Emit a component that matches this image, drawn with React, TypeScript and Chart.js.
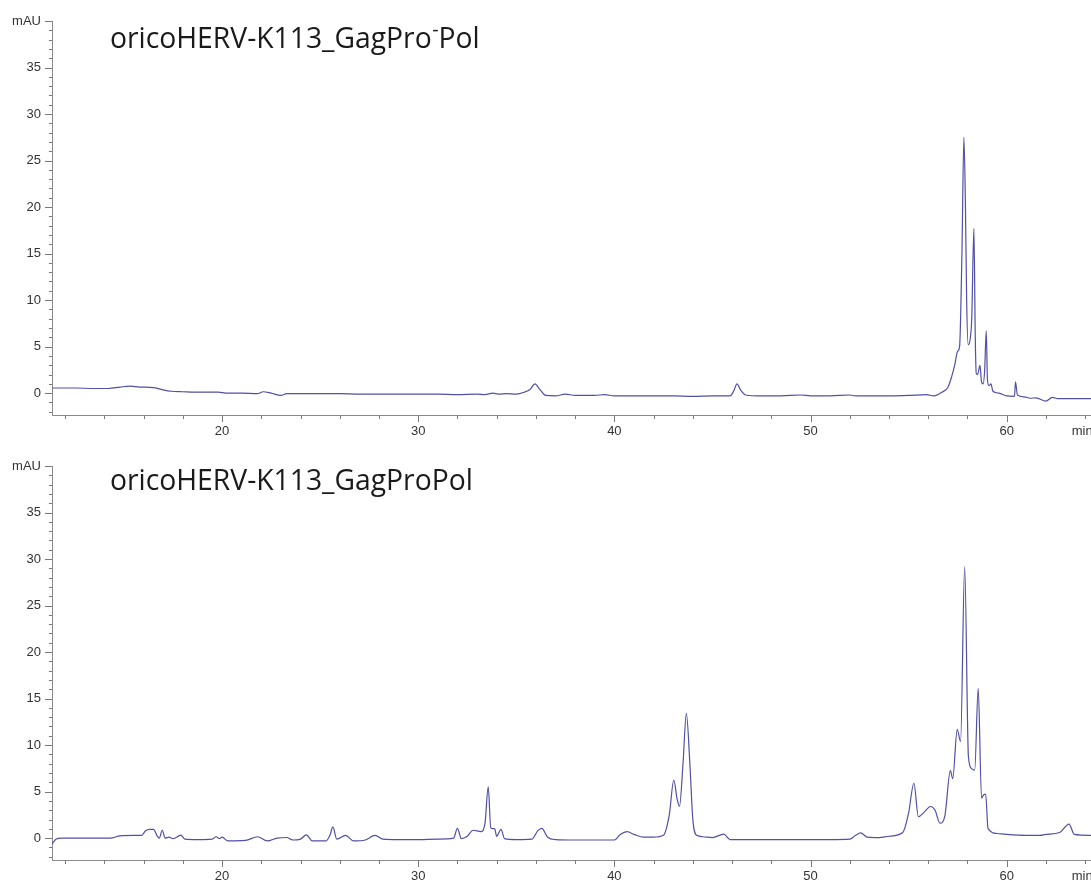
import React, { useEffect, useRef } from 'react';
import { Chart, registerables } from 'chart.js';
Chart.register(...registerables);

// Chromatogram 1: oricoHERV-K113_GagPro-Pol (retention time in min, absorbance in mAU)
const topTimes = [
  11.33, 12.5, 13.5, 14.2, 14.8, 15.3, 15.8, 16.5, 16.9, 17.4, 18.0, 19.0, 19.8, 20.2, 21.0, 21.8, 22.1, 22.5, 23.0, 23.3,
  24.5, 26.0, 27.0, 28.0, 29.0, 30.0, 31.0, 32.0, 33.0, 33.4, 33.8, 34.1, 34.5, 35.0, 35.4, 35.7, 35.95, 36.2, 36.5, 37.0,
  37.5, 38.0, 39.0, 39.5, 40.0, 41.0, 42.0, 43.0, 44.0, 45.0, 45.9, 46.1, 46.25, 46.45, 46.7, 47.5, 48.5, 49.5, 50.0, 51.0,
  52.0, 52.3, 53.0, 54.0, 55.0, 55.9, 56.3, 56.7, 57.0, 57.2, 57.35, 57.5, 57.6, 57.72, 57.82, 57.9, 57.96, 58.04, 58.15, 58.22,
  58.33, 58.4, 58.45, 58.52, 58.64, 58.72, 58.8, 58.88, 58.96, 59.02, 59.1, 59.2, 59.3, 59.6, 60.0, 60.4, 60.45, 60.55, 60.9, 61.2,
  61.5, 62.0, 62.33, 62.6, 63.3, 64.3,
];
const topValues = [
  0.55, 0.55, 0.5, 0.5, 0.65, 0.75, 0.65, 0.6, 0.4, 0.2, 0.15, 0.1, 0.1, 0.0, 0.0, -0.05, 0.15, 0.0, -0.25, -0.05,
  -0.05, -0.05, -0.1, -0.1, -0.1, -0.1, -0.1, -0.15, -0.1, -0.15, 0.0, -0.1, -0.05, -0.1, 0.1, 0.4, 1.0, 0.4, -0.25, -0.3,
  -0.1, -0.25, -0.25, -0.15, -0.3, -0.3, -0.3, -0.3, -0.35, -0.3, -0.3, 0.3, 1.0, 0.3, -0.2, -0.3, -0.3, -0.2, -0.3, -0.3,
  -0.2, -0.3, -0.3, -0.3, -0.25, -0.15, -0.3, 0.1, 0.6, 1.8, 3.0, 4.5, 5.0, 15, 27.5, 20, 10, 5.2, 6.0, 8,
  17.7, 6, 2.1, 2.0, 3.0, 1.2, 1.0, 2.5, 6.7, 1.5, 0.8, 1.0, 0.2, 0.0, -0.3, -0.35, 1.2, -0.2, -0.4, -0.55,
  -0.5, -0.85, -0.45, -0.6, -0.6, -0.6,
];

// Chromatogram 2: oricoHERV-K113_GagProPol
const bottomTimes = [
  11.33, 11.55, 11.8, 13.0, 14.3, 14.8, 15.5, 15.9, 16.1, 16.3, 16.5, 16.7, 16.8, 16.95, 17.1, 17.3, 17.5, 17.9, 18.1, 18.8,
  19.5, 19.7, 19.85, 20.0, 20.3, 21.2, 21.8, 22.3, 22.8, 23.3, 23.6, 24.0, 24.3, 24.6, 25.3, 25.5, 25.65, 25.85, 26.3, 26.7,
  27.3, 27.8, 28.2, 29.0, 30.0, 31.0, 31.8, 32.0, 32.2, 32.5, 32.8, 33.2, 33.4, 33.57, 33.7, 33.9, 34.0, 34.22, 34.4, 35.0,
  35.8, 36.1, 36.3, 36.6, 37.0, 38.0, 39.0, 40.0, 40.3, 40.65, 41.0, 41.5, 42.0, 42.5, 42.8, 43.03, 43.2, 43.32, 43.5, 43.67,
  43.85, 44.0, 44.2, 44.5, 45.0, 45.58, 45.9, 47.0, 48.0, 49.0, 50.0, 51.0, 52.0, 52.3, 52.55, 52.9, 53.5, 54.0, 54.7, 55.0,
  55.27, 55.5, 55.8, 56.12, 56.35, 56.6, 56.85, 57.13, 57.25, 57.48, 57.65, 57.86, 58.05, 58.2, 58.37, 58.55, 58.72, 58.85, 58.93, 59.05,
  59.5, 60.0, 61.0, 61.7, 62.0, 62.7, 63.18, 63.45, 64.3,
];
const bottomValues = [
  -0.6, -0.1, 0.0, 0.0, 0.0, 0.25, 0.3, 0.3, 0.8, 0.95, 0.95, 0.2, 0.0, 0.85, 0.0, 0.1, -0.05, 0.32, -0.1, -0.15,
  -0.1, 0.15, -0.05, 0.1, -0.3, -0.25, 0.15, -0.3, 0.0, 0.07, -0.2, -0.1, 0.35, -0.3, -0.3, 0.3, 1.2, -0.1, 0.3, -0.3,
  -0.2, 0.3, -0.1, -0.15, -0.15, -0.1, 0.0, 1.05, -0.05, 0.2, 0.85, 0.7, 1.5, 5.5, 1.1, 1.0, 0.2, 0.95, -0.05, -0.15,
  -0.1, 0.8, 1.05, 0.1, -0.15, -0.2, -0.2, -0.2, 0.4, 0.7, 0.4, 0.1, 0.1, 0.3, 2.5, 6.25, 4.2, 3.4, 8, 13.4,
  8, 2.0, 0.3, 0.15, 0.05, 0.43, -0.15, -0.15, -0.15, -0.15, -0.15, -0.15, -0.1, 0.3, 0.57, 0.1, 0.05, 0.2, 0.6, 2.7,
  5.9, 2.3, 2.8, 3.4, 3.0, 1.6, 2.4, 7.25, 6.4, 11.7, 10.4, 29.2, 8.8, 7.5, 7.3, 16.1, 4.3, 4.7, 4.7, 1.05,
  0.5, 0.4, 0.3, 0.3, 0.4, 0.6, 1.5, 0.4, 0.3,
];

const xTickValues = [20, 30, 40, 50, 60];
const xUnitPosition = 63.85;
const yTickValues = [0, 5, 10, 15, 20, 25, 30, 35, 40];
const topTitle = [
  { text: 'oricoHERV-K113_GagPro', sup: false },
  { text: '-', sup: true },
  { text: 'Pol', sup: false },
];
const bottomTitle = [{ text: 'oricoHERV-K113_GagProPol', sup: false }];

const X_MIN = 11.33;
const X_MAX = 64.3;
const Y_MIN = -2.35;
const Y_MAX = 40;

const TITLE_FONT = '"Open Sans", Lato, sans-serif';
const TITLE_WIDTH = 363; // width of 'oricoHERV-K113_GagProPol' in the reference

const decorPlugin = {
  id: 'decor',
  afterDraw(chart: any) {
    const ctx = chart.ctx;
    const xs = chart.scales.x;
    const ys = chart.scales.y;
    const { left, bottom } = chart.chartArea;
    ctx.save();
    ctx.strokeStyle = '#7a7a7a';
    ctx.lineWidth = 1;
    ctx.beginPath();
    for (let t = 12; t <= 64; t += 2) {
      const px = Math.round(xs.getPixelForValue(t)) + 0.5;
      const len = t % 10 === 0 ? 7 : 4;
      ctx.moveTo(px, bottom);
      ctx.lineTo(px, bottom + len);
    }
    for (let v = -2; v <= 40; v += 1) {
      const py = Math.round(ys.getPixelForValue(v)) + 0.5;
      const len = v % 5 === 0 ? 7 : 3;
      ctx.moveTo(left - len, py);
      ctx.lineTo(left, py);
    }
    ctx.stroke();

    const parts = chart.options.plugins.decor.title as { text: string; sup: boolean }[];
    const baseline = chart.options.plugins.decor.baseline as number;
    ctx.font = `100px ${TITLE_FONT}`;
    const w100 = ctx.measureText('oricoHERV-K113_GagProPol').width;
    const size = (100 * TITLE_WIDTH) / w100;
    let cx = 110;
    ctx.fillStyle = '#1a1a1a';
    ctx.textBaseline = 'alphabetic';
    ctx.textAlign = 'left';
    for (const p of parts) {
      if (p.sup) {
        ctx.font = `${size * 0.7}px ${TITLE_FONT}`;
        ctx.fillText(p.text, cx + 0.5, baseline - size * 0.4);
        cx += ctx.measureText(p.text).width + 0.5;
      } else {
        ctx.font = `${size}px ${TITLE_FONT}`;
        ctx.fillText(p.text, cx, baseline);
        cx += ctx.measureText(p.text).width;
      }
    }
    ctx.restore();
  },
};

function Chromatogram(props: {
  times: number[];
  values: number[];
  title: { text: string; sup: boolean }[];
  padTop: number;
  xAxisH: number;
}) {
  const ref = useRef<HTMLCanvasElement | null>(null);
  useEffect(() => {
    if (!ref.current) return;
    const tickFont = { family: '"Liberation Sans", Arial, sans-serif', size: 13 };
    const chart = new Chart(ref.current, {
      type: 'line',
      data: {
        datasets: [
          {
            data: props.times.map((t, i) => ({ x: t, y: props.values[i] })),
            borderColor: '#5050a6',
            borderWidth: 1.2,
            pointRadius: 0,
            cubicInterpolationMode: 'monotone',
            fill: false,
          },
        ],
      },
      options: {
        animation: false,
        responsive: false,
        maintainAspectRatio: false,
        layout: { padding: { top: props.padTop, right: 0, left: 0, bottom: 0 } },
        plugins: {
          legend: { display: false },
          tooltip: { enabled: false },
          decor: { title: props.title, baseline: 47.5 },
        } as any,
        scales: {
          x: {
            type: 'linear',
            min: X_MIN,
            max: X_MAX,
            afterBuildTicks: (s: any) => {
              s.ticks = [...xTickValues, xUnitPosition].map((v) => ({ value: v }));
            },
            afterFit: (s: any) => {
              s.height = props.xAxisH;
              s.paddingLeft = 0;
              s.paddingRight = 0;
            },
            ticks: {
              autoSkip: false,
              maxRotation: 0,
              padding: 9,
              color: '#333',
              font: tickFont,
              callback: (v: any) => (v === xUnitPosition ? 'min' : String(v)),
            },
            grid: { display: false, drawTicks: false },
            border: { display: true, color: '#8a8a8a', width: 1 },
          },
          y: {
            type: 'linear',
            min: Y_MIN,
            max: Y_MAX,
            afterBuildTicks: (s: any) => {
              s.ticks = yTickValues.map((v) => ({ value: v }));
            },
            afterFit: (s: any) => {
              s.width = 52;
              s.paddingTop = 0;
              s.paddingBottom = 0;
            },
            ticks: {
              autoSkip: false,
              padding: 11,
              color: '#333',
              font: tickFont,
              callback: (v: any) => (v === 40 ? 'mAU' : String(v)),
            },
            grid: { display: false, drawTicks: false },
            border: { display: true, color: '#8a8a8a', width: 1 },
          },
        },
      } as any,
      plugins: [decorPlugin as any],
    });
    return () => chart.destroy();
  }, []);
  return <canvas ref={ref} width={1091} height={442} style={{ display: 'block', width: 1091, height: 442 }} />;
}

export default function App() {
  return (
    <div style={{ position: 'absolute', left: 0, top: 0, width: 1091, height: 884, background: '#fff' }}>
      <Chromatogram times={topTimes} values={topValues} title={topTitle} padTop={21} xAxisH={27} />
      <Chromatogram times={bottomTimes} values={bottomValues} title={bottomTitle} padTop={24} xAxisH={24} />
    </div>
  );
}
